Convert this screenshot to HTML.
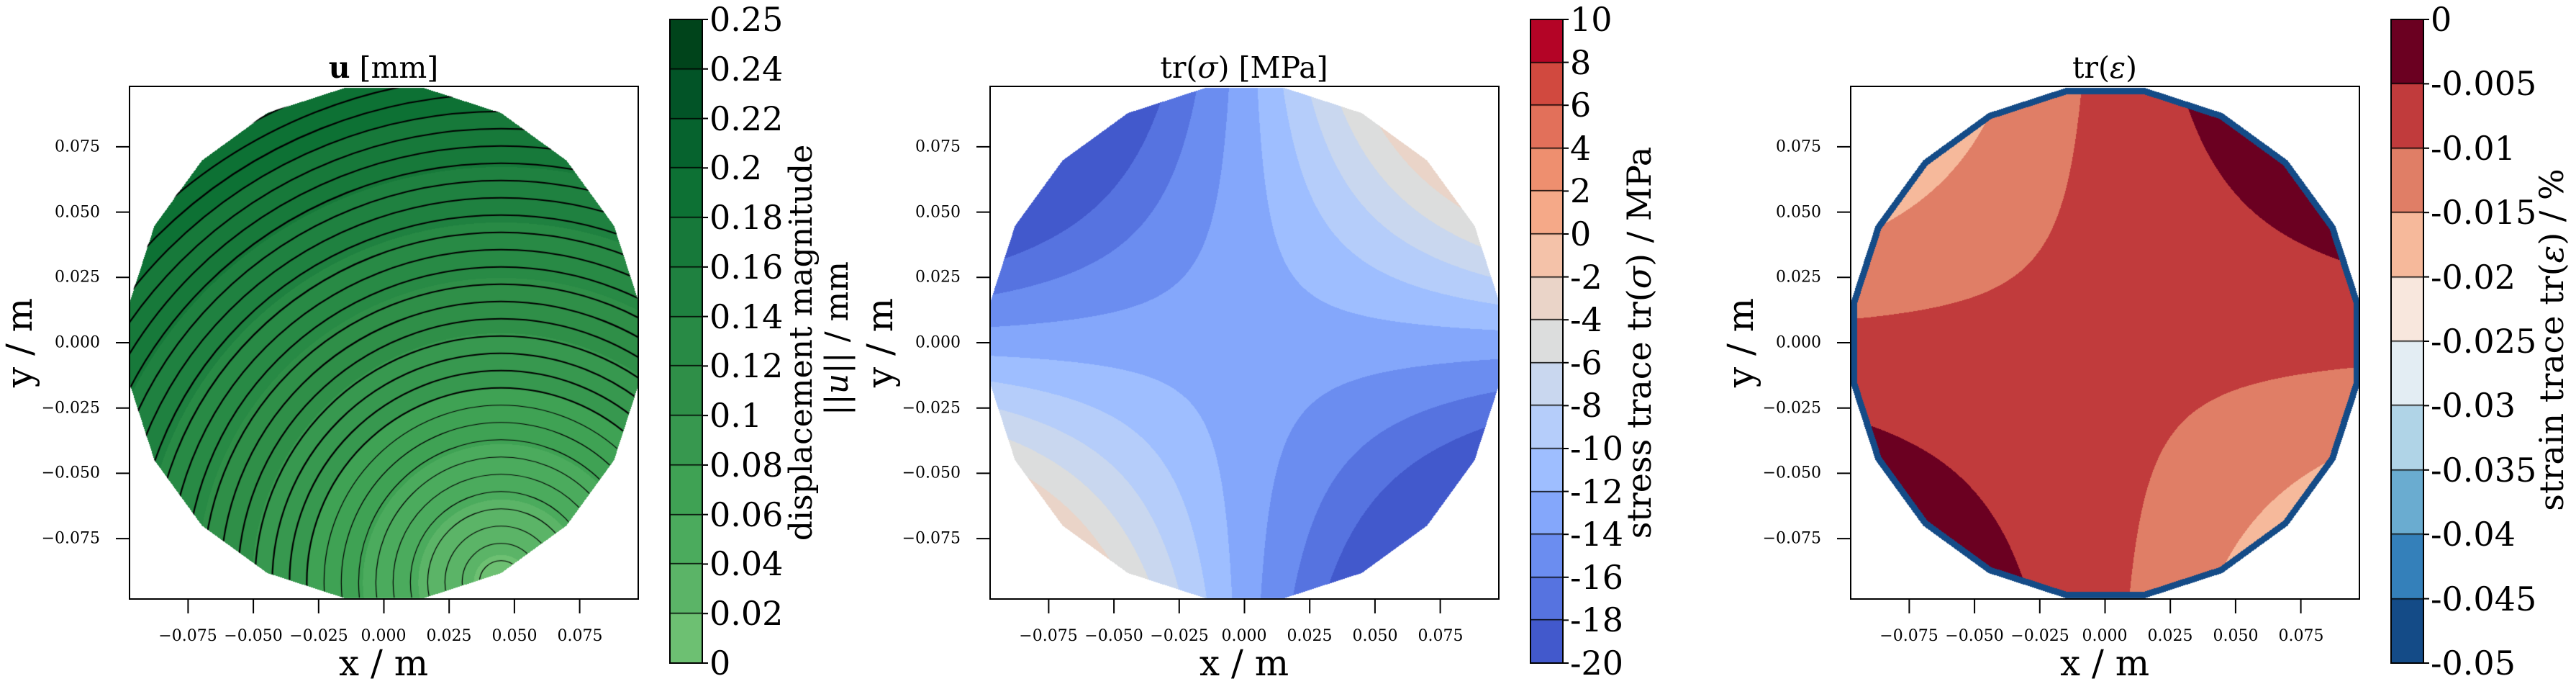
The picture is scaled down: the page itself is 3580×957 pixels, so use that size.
<!DOCTYPE html>
<html><head><meta charset="utf-8">
<style>
html,body{margin:0;padding:0;background:#fff;}
#wrap{position:relative;width:3580px;height:957px;overflow:hidden;background:#fff;}
canvas{position:absolute;}
svg{position:absolute;left:0;top:0;}
text{font-family:"DejaVu Serif","Liberation Serif",serif;fill:#000;}
.tk{font-size:22px;}
.cb{font-size:46px;}
.lb{font-size:46px;}
</style></head><body>
<div id="wrap">
<canvas id="c1" width="707" height="712" style="left:180px;top:120px"></canvas>
<canvas id="c2" width="707" height="712" style="left:1376px;top:120px"></canvas>
<canvas id="c3" width="707" height="712" style="left:2572px;top:120px"></canvas>
<canvas id="cb1" width="45" height="894" style="left:931px;top:27px"></canvas>
<canvas id="cb2" width="45" height="894" style="left:2127px;top:27px"></canvas>
<canvas id="cb3" width="45" height="894" style="left:3323px;top:27px"></canvas>
<svg id="sv" width="3580" height="957">
<g id="lines"></g>
<text class="lb" x="533" y="108" text-anchor="middle" style="font-size:41px"><tspan font-weight="bold">u</tspan> [mm]</text>
<g class="tk" text-anchor="middle">
<text x="261" y="890">−0.075</text><text x="352" y="890">−0.050</text><text x="443" y="890">−0.025</text><text x="533" y="890">0.000</text><text x="624" y="890">0.025</text><text x="715" y="890">0.050</text><text x="806" y="890">0.075</text>
<text x="1457" y="890">−0.075</text><text x="1548" y="890">−0.050</text><text x="1639" y="890">−0.025</text><text x="1729" y="890">0.000</text><text x="1820" y="890">0.025</text><text x="1911" y="890">0.050</text><text x="2002" y="890">0.075</text>
<text x="2653" y="890">−0.075</text><text x="2744" y="890">−0.050</text><text x="2835" y="890">−0.025</text><text x="2925" y="890">0.000</text><text x="3016" y="890">0.025</text><text x="3107" y="890">0.050</text><text x="3198" y="890">0.075</text>
</g>
<g class="tk" text-anchor="end" dominant-baseline="central">
<text x="139" y="204">0.075</text><text x="139" y="295">0.050</text><text x="139" y="385">0.025</text><text x="139" y="476">0.000</text><text x="139" y="567">−0.025</text><text x="139" y="657">−0.050</text><text x="139" y="748">−0.075</text>
<text x="1335" y="204">0.075</text><text x="1335" y="295">0.050</text><text x="1335" y="385">0.025</text><text x="1335" y="476">0.000</text><text x="1335" y="567">−0.025</text><text x="1335" y="657">−0.050</text><text x="1335" y="748">−0.075</text>
<text x="2531" y="204">0.075</text><text x="2531" y="295">0.050</text><text x="2531" y="385">0.025</text><text x="2531" y="476">0.000</text><text x="2531" y="567">−0.025</text><text x="2531" y="657">−0.050</text><text x="2531" y="748">−0.075</text>
</g>
<g class="lb" text-anchor="middle">
<text x="533" y="938" style="font-size:50px">x / m</text><text x="1729" y="938" style="font-size:50px">x / m</text><text x="2925" y="938" style="font-size:50px">x / m</text>
<text transform="translate(44,476) rotate(-90)" style="font-size:50px">y / m</text>
<text transform="translate(1240,476) rotate(-90)" style="font-size:50px">y / m</text>
<text transform="translate(2436,476) rotate(-90)" style="font-size:50px">y / m</text>
<text x="1729" y="108" style="font-size:41px">tr(<tspan font-style="italic">σ</tspan>) [MPa]</text>
<text x="2925" y="108" style="font-size:41px">tr(<tspan font-style="italic">ε</tspan>)</text>
<text transform="translate(1128,476) rotate(-90)" style="font-size:44px">displacement magnitude</text>
<text transform="translate(1178,470) rotate(-90)" style="font-size:44px">||<tspan font-style="italic">u</tspan>|| / mm</text>
<text transform="translate(2294,476) rotate(-90)">stress trace tr(<tspan font-style="italic">σ</tspan>) / MPa</text>
<text transform="translate(3562,472) rotate(-90)">strain trace tr(<tspan font-style="italic">ε</tspan>) / %</text>
</g>
<g class="cb" dominant-baseline="central">
<text x="986" y="921">0</text><text x="986" y="852">0.02</text><text x="986" y="783">0.04</text><text x="986" y="715">0.06</text><text x="986" y="646">0.08</text><text x="986" y="577">0.1</text><text x="986" y="508">0.12</text><text x="986" y="440">0.14</text><text x="986" y="371">0.16</text><text x="986" y="302">0.18</text><text x="986" y="233">0.2</text><text x="986" y="165">0.22</text><text x="986" y="96">0.24</text><text x="986" y="27">0.25</text>
<text x="2182" y="921">-20</text><text x="2182" y="861">-18</text><text x="2182" y="802">-16</text><text x="2182" y="742">-14</text><text x="2182" y="683">-12</text><text x="2182" y="623">-10</text><text x="2182" y="563">-8</text><text x="2182" y="504">-6</text><text x="2182" y="444">-4</text><text x="2182" y="385">-2</text><text x="2182" y="325">0</text><text x="2182" y="265">2</text><text x="2182" y="206">4</text><text x="2182" y="146">6</text><text x="2182" y="87">8</text><text x="2182" y="27">10</text>
<text x="3378" y="921">-0.05</text><text x="3378" y="832">-0.045</text><text x="3378" y="742">-0.04</text><text x="3378" y="653">-0.035</text><text x="3378" y="563">-0.03</text><text x="3378" y="474">-0.025</text><text x="3378" y="385">-0.02</text><text x="3378" y="295">-0.015</text><text x="3378" y="206">-0.01</text><text x="3378" y="116">-0.005</text><text x="3378" y="27">0</text>
</g>
</svg>
</div>
<script>
(function(){
function hex(h){return [parseInt(h.substr(1,2),16),parseInt(h.substr(3,2),16),parseInt(h.substr(5,2),16)];}
var G=["#6dc072","#5bb467","#4bab5d","#3fa254","#37984f","#2f8f48","#288a45","#1f8140","#17793a","#0d7134","#06632e","#025427","#00441b"].map(hex);
var CW=["#4259cc","#5673e0","#6b8df0","#84a7fb","#9ebeff","#b5cdfa","#c9d7ef","#dcdddd","#ead4c8","#f4c2a9","#f5a988","#ee8f6f","#e2705a","#d1493f","#b40426"].map(hex);
var RB=["#144b87","#3480ba","#6aacd0","#b0d4e7","#e3edf3","#f8e7dd","#f6b99b","#e07e66","#c13b3c","#6b0021"].map(hex);
var S=354,CX=353.5,CY=356,N=20;
var ns=[];for(var k=0;k<N;k++){var a=k*2*Math.PI/N;ns.push([Math.cos(a),Math.sin(a)]);}
function inside(u,v,ap){for(var k=0;k<N;k++){if(u*ns[k][0]+v*ns[k][1]>ap)return false;}return true;}
function field(id,fn){
 var c=document.getElementById(id),ctx=c.getContext('2d');
 var im=ctx.createImageData(707,712),d=im.data;
 for(var y=0;y<712;y++)for(var x=0;x<707;x++){
  var u=(x-CX)/S,v=(CY-y)/S; if(!inside(u,v,1.0))continue;
  var col=fn(u,v); var i=(y*707+x)*4;
  d[i]=col[0];d[i+1]=col[1];d[i+2]=col[2];d[i+3]=255;}
 ctx.putImageData(im,0,0); return ctx;}
var ctx1=field('c1',function(u,v){var du=u-0.46,dv=v+0.94;var dd=Math.sqrt(du*du+dv*dv);
 var val=0.01+0.092*dd;var b=Math.floor(val/0.02);if(b<0)b=0;if(b>12)b=12;return G[b];});
ctx1.save();ctx1.beginPath();
for(var k=0;k<N;k++){var a=(k+0.5)*2*Math.PI/N,r=1/Math.cos(Math.PI/N);var px=CX+S*r*Math.cos(a),py=CY-S*r*Math.sin(a);if(k==0)ctx1.moveTo(px,py);else ctx1.lineTo(px,py);}
ctx1.closePath();ctx1.clip();ctx1.strokeStyle='#000';
var ox=CX+0.46*S,oy=CY+0.94*S;
for(var r=30;r<780;r+=24){ctx1.lineWidth=r<250?1.2:2.2;ctx1.beginPath();ctx1.arc(ox,oy,r,0,Math.PI*2);ctx1.stroke();}
ctx1.restore();
field('c2',function(u,v){var p=u*v;var f=p>0?-13+20*p:-13+16*p;var b=Math.floor((f+20)/2);if(b<0)b=0;if(b>14)b=14;return CW[b];});
field('c3',function(u,v){if(!inside(u,v,0.975))return RB[0];var p=u*v;var g=p>0?-0.0085+0.0117*p:-0.0085+0.016*p;var b=Math.floor((g+0.05)/0.005);if(b<0)b=0;if(b>9)b=9;return RB[b];});
function cbar(id,cols){var c=document.getElementById(id),ctx=c.getContext('2d');var n=cols.length,h=894/n;
 for(var i=0;i<n;i++){var cc=cols[i];ctx.fillStyle='rgb('+cc[0]+','+cc[1]+','+cc[2]+')';ctx.fillRect(0,894-(i+1)*h-0.5,45,h+1);}
 ctx.fillStyle='#000';for(var i=1;i<n;i++){ctx.fillRect(0,Math.round(894-i*h)-1,45,1.5);}}
cbar('cb1',G);cbar('cb2',CW);cbar('cb3',RB);
var L=document.getElementById('lines'),out='';
function ln(x1,y1,x2,y2,w){out+='<line x1="'+x1+'" y1="'+y1+'" x2="'+x2+'" y2="'+y2+'" stroke="#000" stroke-width="'+w+'"/>';}
[180,1376,2572].forEach(function(l){
 out+='<rect x="'+l+'" y="120" width="707" height="712" fill="none" stroke="#000" stroke-width="2"/>';
 var cx=l+353.5;
 for(var k=-3;k<=3;k++){var x=cx+k*90.7;ln(x,832,x,852,2);var y=476-k*90.7;ln(l,y,l-19,y,2);}
});
[[931,14],[2127,16],[3323,11]].forEach(function(c){
 out+='<rect x="'+c[0]+'" y="27" width="45" height="894" fill="none" stroke="#000" stroke-width="2"/>';
 var n=c[1];for(var i=0;i<n;i++){var y=921-i*894/(n-1);ln(c[0]+45,y,c[0]+53,y,2);}
});
L.innerHTML=out;
})();
</script>
</body></html>
